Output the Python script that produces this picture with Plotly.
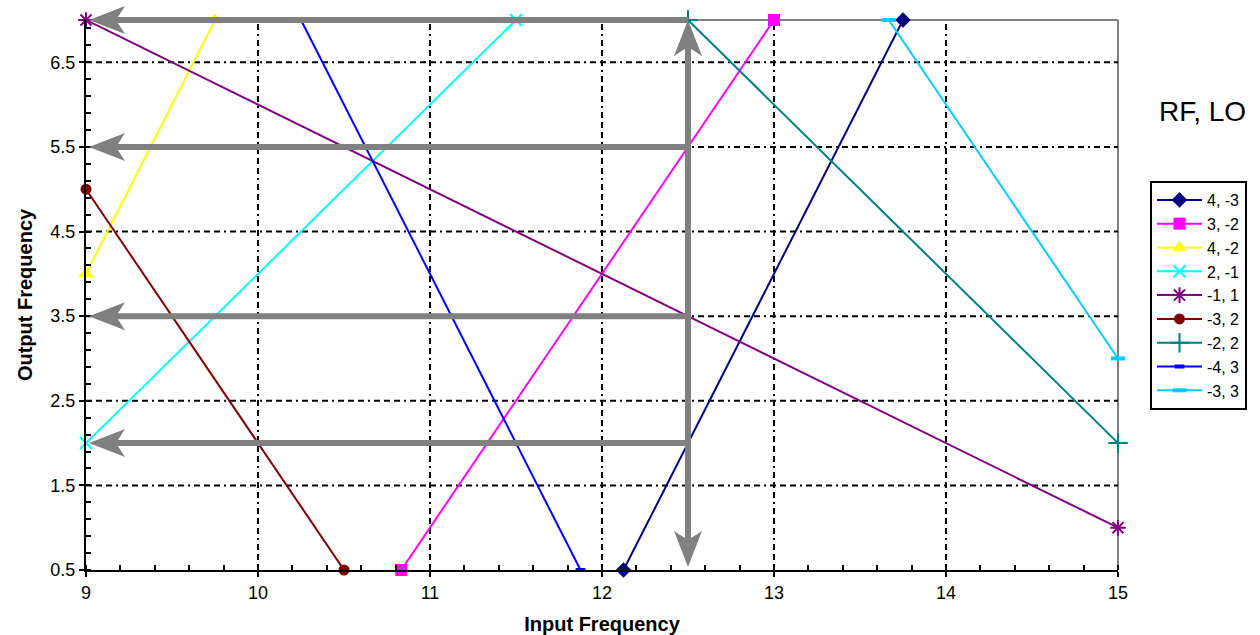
import plotly.graph_objects as go

# ---- data ----
series_names = ["4, -3", "3, -2", "4, -2", "2, -1", "-1, 1", "-3, 2", "-2, 2", "-4, 3", "-3, 3"]
series_x = [
    [12.125, 13.75],
    [10.833, 13.0],
    [9.0, 9.75],
    [9.0, 11.5],
    [9.0, 15.0],
    [9.0, 10.5],
    [12.5, 15.0],
    [10.25, 11.875],
    [13.667, 15.0],
]
series_y = [
    [0.5, 7.0],
    [0.5, 7.0],
    [4.0, 7.0],
    [2.0, 7.0],
    [7.0, 1.0],
    [5.0, 0.5],
    [7.0, 2.0],
    [7.0, 0.5],
    [7.0, 3.0],
]
x_ticks = [9, 10, 11, 12, 13, 14, 15]
y_ticks = [0.5, 1.5, 2.5, 3.5, 4.5, 5.5, 6.5]
arrow_x = 12.5
arrow_levels = [7.0, 5.5, 3.5, 2.0]

# ---- styles ----
colors = ["#000080", "#FF00FF", "#FFFF00", "#00FFFF", "#800080", "#800000", "#008080", "#0000FF", "#00CCFF"]
symbols = ["diamond", "square", "triangle-up", "x-thin", "asterisk", "circle", "cross-thin", "line-ew", "line-ew"]
msizes = [12, 12, 13, 12, 13, 11, 14, 7, 10]
line_syms = {"x-thin", "asterisk", "cross-thin", "line-ew"}

W, H = 1260, 635
ML, MR, MT, MB = 86, 142, 20, 65
XR = [9, 15]
YR = [0.5, 7]
pw, ph = W - ML - MR, H - MT - MB

FONT = "Arial, Liberation Sans, sans-serif"
GRAY = "#808080"


def px(x):  # data x -> paper x
    return (x - XR[0]) / (XR[1] - XR[0])


def py(y):  # data y -> paper y
    return (y - YR[0]) / (YR[1] - YR[0])


fig = go.Figure()
for i, name in enumerate(series_names):
    sym = symbols[i]
    if sym in line_syms:
        mk = dict(symbol=sym, size=msizes[i], color=colors[i],
                  line=dict(color=colors[i], width=4 if sym == "line-ew" else 2))
    else:
        mk = dict(symbol=sym, size=msizes[i], color=colors[i], line=dict(width=0))
    fig.add_trace(go.Scatter(
        x=series_x[i], y=series_y[i], name=name, mode="lines+markers",
        line=dict(color=colors[i], width=2), marker=mk,
        cliponaxis=(name == "-4, 3"),
        legendgroup=name,
    ))

shapes = []
dash = "6px,4px,6px,4px,6px,4px,2px,4px"
for xv in x_ticks[1:-1]:
    shapes.append(dict(type="line", xref="x", yref="y", x0=xv, x1=xv, y0=YR[0], y1=YR[1],
                       line=dict(color="black", width=2, dash=dash), layer="below"))
for yv in y_ticks[1:]:
    shapes.append(dict(type="line", xref="x", yref="y", x0=XR[0], x1=XR[1], y0=yv, y1=yv,
                       line=dict(color="black", width=2, dash=dash), layer="below"))
# gray top/right border
shapes.append(dict(type="line", xref="paper", yref="paper", x0=0, x1=1, y0=1, y1=1,
                   line=dict(color=GRAY, width=2), layer="below"))
shapes.append(dict(type="line", xref="paper", yref="paper", x0=1, x1=1, y0=0, y1=1,
                   line=dict(color=GRAY, width=2), layer="below"))

# arrows (paper coordinates so they are not clipped at the plot edge)
L, HW, N = 36, 14, 27  # head length, half width, notch depth (px)
tip_off = 3
shaft_w = 6
ux, uy = 1 / pw, 1 / ph  # one pixel in paper units


def head_left(yv):
    tx = px(XR[0]) + tip_off * ux
    yy = py(yv)
    p = [(tx, yy), (tx + L * ux, yy + HW * uy), (tx + N * ux, yy), (tx + L * ux, yy - HW * uy)]
    return "M " + " L ".join(f"{a},{b}" for a, b in p) + " Z"


def head_vert(xv, ytip, direction):
    d = -direction
    xx = px(xv)
    p = [(xx, ytip), (xx + HW * ux, ytip + d * L * uy), (xx, ytip + d * N * uy), (xx - HW * ux, ytip + d * L * uy)]
    return "M " + " L ".join(f"{a},{b}" for a, b in p) + " Z"


for yv in arrow_levels:
    shapes.append(dict(type="line", xref="paper", yref="paper", x0=px(XR[0]) + (tip_off + N) * ux,
                       x1=px(arrow_x), y0=py(yv), y1=py(yv),
                       line=dict(color=GRAY, width=shaft_w), layer="above"))
    shapes.append(dict(type="path", xref="paper", yref="paper", path=head_left(yv),
                       fillcolor=GRAY, line=dict(color=GRAY, width=0), layer="above"))

top_tip = py(YR[1])
bot_tip = py(YR[0]) + tip_off * uy
shapes.append(dict(type="line", xref="paper", yref="paper", x0=px(arrow_x), x1=px(arrow_x),
                   y0=bot_tip + N * uy, y1=top_tip - N * uy,
                   line=dict(color=GRAY, width=shaft_w), layer="above"))
shapes.append(dict(type="path", xref="paper", yref="paper", path=head_vert(arrow_x, top_tip, 1),
                   fillcolor=GRAY, line=dict(color=GRAY, width=0), layer="above"))
shapes.append(dict(type="path", xref="paper", yref="paper", path=head_vert(arrow_x, bot_tip, -1),
                   fillcolor=GRAY, line=dict(color=GRAY, width=0), layer="above"))

axis_common = dict(
    showgrid=False, zeroline=False, showline=True, linecolor="black", linewidth=2,
    ticks="outside", ticklen=5, tickwidth=2, tickcolor="black", automargin=False,
    tickfont=dict(family=FONT, size=18, color="black"),
)

fig.update_layout(
    width=W, height=H,
    margin=dict(l=ML, r=MR, t=MT, b=MB),
    paper_bgcolor="white", plot_bgcolor="white",
    font=dict(family=FONT, color="black"),
    xaxis=dict(range=XR, tickvals=x_ticks, **axis_common,
               minor=dict(dtick=0.2, tick0=9, ticks="inside", ticklen=5, tickwidth=2, tickcolor="black"),
               title=dict(text="<b>Input Frequency</b>", font=dict(family=FONT, size=20), standoff=15)),
    yaxis=dict(range=YR, tickvals=y_ticks, **axis_common,
               minor=dict(dtick=0.2, tick0=0.5, ticks="inside", ticklen=5, tickwidth=2, tickcolor="black"),
               title=dict(text="<b>Output Frequency</b>", font=dict(family=FONT, size=20), standoff=12)),
    shapes=shapes,
    showlegend=True,
    legend=dict(x=(1150 - ML) / pw, y=(H - MB - 181) / ph, xanchor="left", yanchor="top",
                bordercolor="black", borderwidth=2, font=dict(family=FONT, size=16, color="black"),
                traceorder="grouped", tracegroupgap=0, bgcolor="white", itemwidth=45),
    annotations=[dict(text="RF, LO", xref="paper", yref="paper",
                      x=(1202 - ML) / pw, y=(H - MB - 112) / ph, xanchor="center", yanchor="middle",
                      showarrow=False, font=dict(family=FONT, size=28, color="black"))],
)

fig.write_html("out.html", config={"displayModeBar": False},
               post_script="document.body.style.margin='0';document.body.style.overflow='hidden';")
